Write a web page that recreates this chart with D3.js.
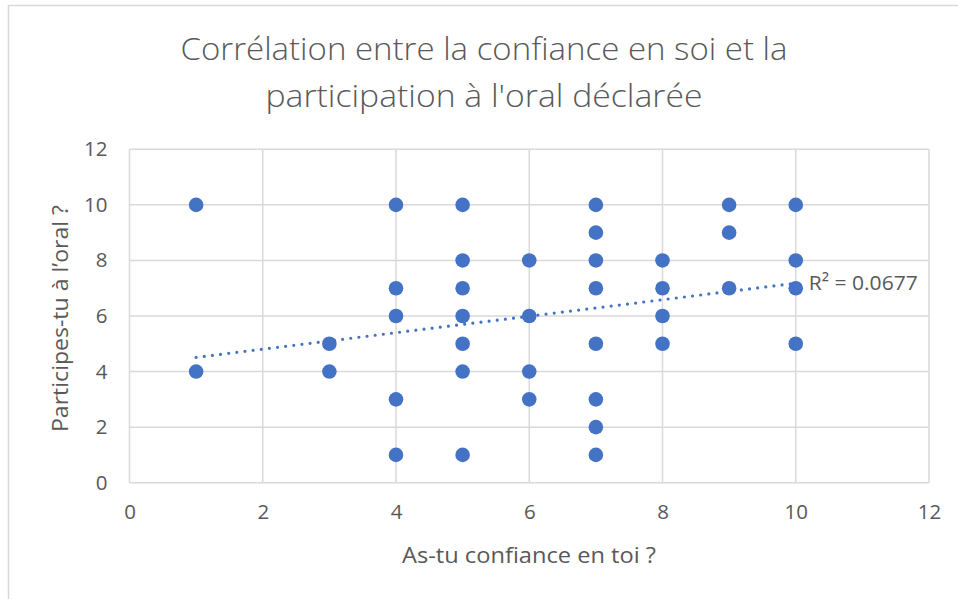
<!DOCTYPE html>
<html>
<head>
<meta charset="utf-8">
<script src="https://cdn.jsdelivr.net/npm/d3@7"></script>
<style>
  html, body { margin: 0; padding: 0; background: #fff; }
  svg { display: block; font-family: "Open Sans", "Noto Sans", sans-serif; }
</style>
</head>
<body>
<script>
// Responses: self-confidence (x) vs. declared oral participation (y)
const confiance = [1, 1, 3, 3, 4, 4, 4, 4, 4, 5, 5, 5, 5, 5, 5, 5, 6, 6, 6, 6,
                   7, 7, 7, 7, 7, 7, 7, 7, 8, 8, 8, 8, 9, 9, 9, 10, 10, 10, 10];
const participation = [10, 4, 5, 4, 10, 7, 6, 3, 1, 10, 8, 7, 6, 5, 4, 1, 8, 6, 4, 3,
                       10, 9, 8, 7, 5, 3, 2, 1, 8, 7, 6, 5, 10, 9, 7, 10, 8, 7, 5];

// Linear trend line endpoints and its R² label
const trendX = [1, 10];
const trendY = [4.51, 7.18];
const rSquaredLabel = "R² = 0.0677";

const xTicks = [0, 2, 4, 6, 8, 10, 12];
const yTicks = [0, 2, 4, 6, 8, 10, 12];

const titleLines = ["Corrélation entre la confiance en soi et la",
                    "participation à l'oral déclarée"];
const xTitle = "As-tu confiance en toi ?";
const yTitle = "Participes-tu à l’oral ?";

const W = 958, H = 599;
const plot = { left: 129.5, right: 929, top: 149.3, bottom: 482.7 };
const textColor = "#595959";
const gridColor = "#d9d9d9";
const dotColor = "#4472C4";

const svg = d3.select("body").append("svg")
  .attr("width", W).attr("height", H);

// Chart frame
svg.append("rect")
  .attr("x", 8.5).attr("y", 5.5)
  .attr("width", W + 10).attr("height", H + 10)
  .attr("fill", "#fff").attr("stroke", gridColor).attr("stroke-width", 1.5);

const x = d3.scaleLinear().domain([0, 12]).range([plot.left, plot.right]);
const y = d3.scaleLinear().domain([0, 12]).range([plot.bottom, plot.top]);

// Title (two centred lines)
const titleWidths = [607, 437];
svg.append("g").selectAll("text").data(titleLines).join("text")
  .attr("x", 484).attr("y", (d, i) => 60 + i * 47)
  .attr("text-anchor", "middle")
  .attr("font-size", 31).attr("font-weight", 300).attr("fill", textColor)
  .attr("textLength", (d, i) => titleWidths[i])
  .attr("lengthAdjust", "spacingAndGlyphs")
  .text(d => d);

// Gridlines
const grid = svg.append("g");
grid.selectAll("line.v").data(xTicks).join("line").attr("class", "v")
  .attr("x1", d => x(d)).attr("x2", d => x(d))
  .attr("y1", plot.top).attr("y2", plot.bottom)
  .attr("stroke", gridColor).attr("stroke-width", 1.5);
grid.selectAll("line.h").data(yTicks).join("line").attr("class", "h")
  .attr("x1", plot.left).attr("x2", plot.right)
  .attr("y1", d => y(d)).attr("y2", d => y(d))
  .attr("stroke", gridColor).attr("stroke-width", 1.5);

// Axes (labels only; the domain lines coincide with the gridlines)
const xAxis = svg.append("g")
  .attr("transform", `translate(0,${plot.bottom + 14})`)
  .call(d3.axisBottom(x).tickValues(xTicks).tickSize(0).tickPadding(8));
const yAxis = svg.append("g")
  .attr("transform", `translate(${plot.left - 16},0)`)
  .call(d3.axisLeft(y).tickValues(yTicks).tickSize(0).tickPadding(6));
[xAxis, yAxis].forEach(a => {
  a.select(".domain").remove();
  a.selectAll("text").attr("font-size", 20.5).attr("fill", textColor)
    .attr("font-family", "'Open Sans', 'Noto Sans', sans-serif");
});

// Axis titles
svg.append("text")
  .attr("x", 529).attr("y", 563)
  .attr("text-anchor", "middle").attr("font-size", 22.5).attr("fill", textColor)
  .attr("textLength", 254).attr("lengthAdjust", "spacingAndGlyphs")
  .text(xTitle);
svg.append("text")
  .attr("transform", `translate(68,318.5) rotate(-90)`)
  .attr("text-anchor", "middle").attr("font-size", 22.5).attr("fill", textColor)
  .attr("textLength", 227).attr("lengthAdjust", "spacingAndGlyphs")
  .text(yTitle);

// Data points
const pts = confiance.map((c, i) => ({ x: c, y: participation[i] }));
svg.append("g").selectAll("circle").data(pts).join("circle")
  .attr("cx", d => x(d.x)).attr("cy", d => y(d.y))
  .attr("r", 7.3).attr("fill", dotColor);

// Dotted trend line
const trend = trendX.map((v, i) => [v, trendY[i]]);
svg.append("path")
  .datum(trend)
  .attr("d", d3.line().x(d => x(d[0])).y(d => y(d[1])))
  .attr("fill", "none").attr("stroke", dotColor)
  .attr("stroke-width", 3.2).attr("stroke-linecap", "round")
  .attr("stroke-dasharray", "0 8.2");

// R² label
svg.append("text")
  .attr("x", x(trendX[1]) + 13).attr("y", y(trendY[1]) + 7)
  .attr("font-size", 20.5).attr("fill", textColor)
  .attr("textLength", 109).attr("lengthAdjust", "spacingAndGlyphs")
  .text(rSquaredLabel);
</script>
</body>
</html>
